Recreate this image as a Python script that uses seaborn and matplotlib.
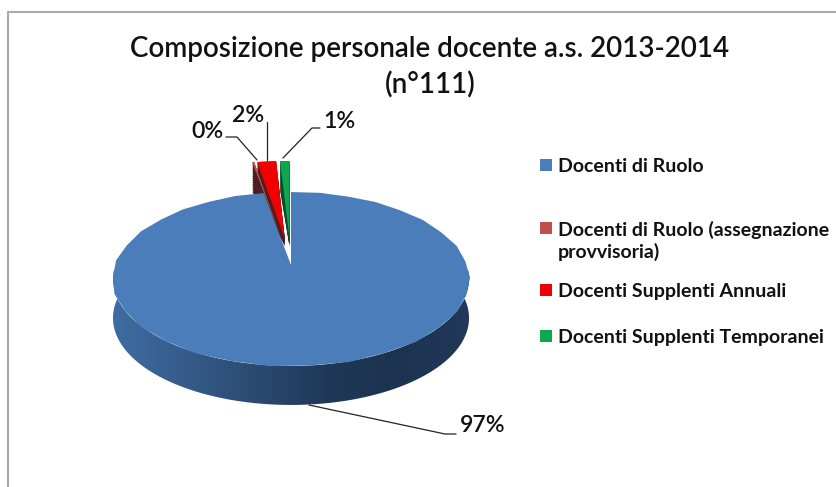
import matplotlib

matplotlib.use("Agg")
import matplotlib.pyplot as plt
import numpy as np
import seaborn as sns
from matplotlib.patches import Polygon

title = "Composizione personale docente a.s. 2013-2014\n(n°111)"
categories = [
    "Docenti di Ruolo",
    "Docenti di Ruolo (assegnazione\nprovvisoria)",
    "Docenti Supplenti Annuali",
    "Docenti Supplenti Temporanei",
]
teachers = [108, 0.2, 2, 1]
colors = ["#4a7dba", "#c0504d", "#f00000", "#10a650"]
side_colors = ["#2c4a70", "#4a1f22", "#4a1f22", "#0d4a28"]

sns.set_theme(style="white")
plt.rcParams["font.family"] = ["Lato", "DejaVu Sans"]

# 3d look: perspective projection of the unit pie
CX, CY = 291, 265
A, B, K = 84.7, 175.7, 0.161
DEPTH = 39


def project(pts):
    w = 1 + K * pts[:, 1]
    return np.column_stack([CX + B * pts[:, 0] / w, CY - A * pts[:, 1] / w])


def slice_faces(ax, radius, explode):
    wedges, _ = ax.pie(teachers, startangle=90, counterclock=False, radius=radius, explode=explode)
    out = []
    for w in wedges:
        out.append(project(w.get_path().transformed(w.get_patch_transform()).to_polygons()[0]))
        w.remove()
    return out


fig = plt.figure(figsize=(8.37, 4.87), dpi=100)
ax = fig.add_axes([0, 0, 1, 1])

big_face = slice_faces(ax, 1.0, [0, 0, 0, 0])[0]
small_faces = slice_faces(ax, 1.2, [0, 0.33, 0.33, 0.33])[1:]

# side wall of the big slice
t = np.radians(np.linspace(165, 375, 200))
rim = project(np.column_stack([np.cos(t), np.sin(t)]))
wall = Polygon(np.vstack([rim, (rim + [0, DEPTH])[::-1]]), transform=ax.transData, fc="none", ec="none")
ax.add_patch(wall)
shade = sns.blend_palette(["#3f6ca3", "#355c8b", "#2c4a70", "#1f3857", "#1c3350", "#21395a"], 256, as_cmap=True)
img = ax.imshow(np.linspace(0, 1, 256)[None, :], cmap=shade, extent=(113, 469, 410, 270), aspect="auto", zorder=1)
img.set_clip_path(wall)

# dark sides of the small slices, then the top faces
for face, c in zip(small_faces, side_colors[1:]):
    for d in range(0, 32, 2):
        ax.fill(face[:, 0], face[:, 1] + d * (CY - face[:, 1]) / 105, color=c, lw=0, zorder=2)
ax.fill(big_face[:, 0], big_face[:, 1], color=colors[0], lw=0, zorder=3)
for face, c in zip(small_faces, colors[1:]):
    ax.fill(face[:, 0], face[:, 1], color=c, lw=0, zorder=4)

# percent labels with leader lines
total = sum(teachers)
pct = [f"{v / total:.0%}" for v in teachers]
label_xy = [(460, 425), (191, 131), (232, 115), (323, 122)]
leaders = [
    [(309, 405), (445, 434), (456, 434)],
    [(226, 137), (237, 137), (257, 160)],
    [(267, 122), (267, 160)],
    [(283, 158), (312, 128), (320, 128)],
]
for s, xy, line in zip(pct, label_xy, leaders):
    ax.text(xy[0], xy[1], s, fontsize=16.7, fontweight="semibold", color="#111111", ha="left", va="center", zorder=6)
    lx, ly = zip(*line)
    ax.plot(lx, ly, color="#222222", lw=0.9, zorder=5)

# legend
legend_y = [165, 228, 290, 336]
for name, c, y in zip(categories, colors, legend_y):
    ax.scatter([546], [y], marker="s", s=76, color=c, lw=0, zorder=5)
    ax.text(558, y - 7, name, fontsize=14, fontweight="bold", color="#111111",
            ha="left", va="top", linespacing=1.25, zorder=5)

ax.text(430, 67, title, fontsize=20, fontweight="semibold", color="#111111", ha="center", va="center", linespacing=1.45)

# chart frame, only left and top edges are inside the picture
ax.plot([8, 8, 837], [487, 12, 12], color="#aaaaaa", lw=1.5, zorder=0)

ax.set_aspect("auto")
ax.set_xlim(0, 837)
ax.set_ylim(487, 0)
ax.axis("off")

fig.savefig("out.png", dpi=100)
